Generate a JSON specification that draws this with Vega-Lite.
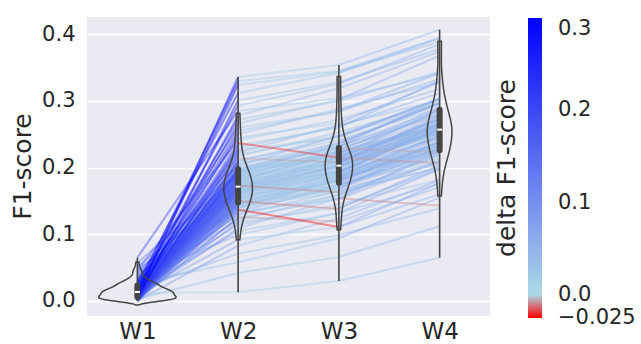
{
  "$schema": "https://vega.github.io/schema/vega-lite/v6.json",
  "autosize": {"type": "none"},
  "padding": {"left": 87, "top": 17, "right": 151, "bottom": 28},
  "width": 403,
  "height": 299,
  "datasets": {
    "runs": [
      {"W1":0.012,"W2":0.013,"W3":0.030,"W4":0.065},
      {"W1":0.003,"W2":0.042,"W3":0.066,"W4":0.112},
      {"W1":0.027,"W2":0.058,"W3":0.094,"W4":0.155},
      {"W1":0.018,"W2":0.071,"W3":0.099,"W4":0.139},
      {"W1":0.000,"W2":0.083,"W3":0.124,"W4":0.181},
      {"W1":0.009,"W2":0.092,"W3":0.111,"W4":0.160},
      {"W1":0.035,"W2":0.099,"W3":0.132,"W4":0.198},
      {"W1":0.015,"W2":0.105,"W3":0.132,"W4":0.176},
      {"W1":0.006,"W2":0.109,"W3":0.154,"W4":0.143},
      {"W1":0.021,"W2":0.114,"W3":0.145,"W4":0.182},
      {"W1":0.005,"W2":0.118,"W3":0.140,"W4":0.199},
      {"W1":0.030,"W2":0.121,"W3":0.159,"W4":0.209},
      {"W1":0.011,"W2":0.124,"W3":0.154,"W4":0.225},
      {"W1":0.001,"W2":0.126,"W3":0.119,"W4":0.171},
      {"W1":0.024,"W2":0.129,"W3":0.165,"W4":0.211},
      {"W1":0.016,"W2":0.131,"W3":0.159,"W4":0.220},
      {"W1":0.008,"W2":0.133,"W3":0.174,"W4":0.214},
      {"W1":0.042,"W2":0.134,"W3":0.153,"W4":0.210},
      {"W1":0.013,"W2":0.136,"W3":0.169,"W4":0.218},
      {"W1":0.004,"W2":0.137,"W3":0.111,"W4":0.177},
      {"W1":0.019,"W2":0.139,"W3":0.184,"W4":0.228},
      {"W1":0.000,"W2":0.140,"W3":0.171,"W4":0.226},
      {"W1":0.026,"W2":0.141,"W3":0.163,"W4":0.200},
      {"W1":0.010,"W2":0.142,"W3":0.180,"W4":0.239},
      {"W1":0.006,"W2":0.143,"W3":0.173,"W4":0.223},
      {"W1":0.033,"W2":0.144,"W3":0.168,"W4":0.239},
      {"W1":0.014,"W2":0.145,"W3":0.181,"W4":0.233},
      {"W1":0.002,"W2":0.146,"W3":0.174,"W4":0.220},
      {"W1":0.022,"W2":0.146,"W3":0.187,"W4":0.248},
      {"W1":0.007,"W2":0.147,"W3":0.166,"W4":0.206},
      {"W1":0.048,"W2":0.148,"W3":0.181,"W4":0.238},
      {"W1":0.013,"W2":0.149,"W3":0.176,"W4":0.225},
      {"W1":0.005,"W2":0.150,"W3":0.138,"W4":0.204},
      {"W1":0.017,"W2":0.151,"W3":0.182,"W4":0.226},
      {"W1":0.029,"W2":0.152,"W3":0.174,"W4":0.229},
      {"W1":0.000,"W2":0.153,"W3":0.191,"W4":0.228},
      {"W1":0.011,"W2":0.154,"W3":0.184,"W4":0.243},
      {"W1":0.020,"W2":0.155,"W3":0.179,"W4":0.229},
      {"W1":0.004,"W2":0.156,"W3":0.192,"W4":0.263},
      {"W1":0.038,"W2":0.157,"W3":0.185,"W4":0.237},
      {"W1":0.009,"W2":0.158,"W3":0.199,"W4":0.245},
      {"W1":0.023,"W2":0.159,"W3":0.178,"W4":0.239},
      {"W1":0.003,"W2":0.160,"W3":0.193,"W4":0.233},
      {"W1":0.015,"W2":0.161,"W3":0.188,"W4":0.245},
      {"W1":0.031,"W2":0.161,"W3":0.206,"W4":0.255},
      {"W1":0.006,"W2":0.162,"W3":0.193,"W4":0.259},
      {"W1":0.012,"W2":0.163,"W3":0.185,"W4":0.229},
      {"W1":0.000,"W2":0.164,"W3":0.202,"W4":0.257},
      {"W1":0.025,"W2":0.165,"W3":0.195,"W4":0.232},
      {"W1":0.018,"W2":0.165,"W3":0.189,"W4":0.248},
      {"W1":0.014,"W2":0.166,"W3":0.202,"W4":0.252},
      {"W1":0.052,"W2":0.167,"W3":0.195,"W4":0.266},
      {"W1":0.007,"W2":0.168,"W3":0.209,"W4":0.261},
      {"W1":0.021,"W2":0.168,"W3":0.187,"W4":0.233},
      {"W1":0.002,"W2":0.169,"W3":0.202,"W4":0.263},
      {"W1":0.010,"W2":0.169,"W3":0.196,"W4":0.236},
      {"W1":0.028,"W2":0.170,"W3":0.215,"W4":0.272},
      {"W1":0.005,"W2":0.170,"W3":0.201,"W4":0.250},
      {"W1":0.016,"W2":0.171,"W3":0.193,"W4":0.259},
      {"W1":0.036,"W2":0.171,"W3":0.209,"W4":0.253},
      {"W1":0.000,"W2":0.172,"W3":0.202,"W4":0.257},
      {"W1":0.019,"W2":0.173,"W3":0.163,"W4":0.200},
      {"W1":0.012,"W2":0.174,"W3":0.210,"W4":0.269},
      {"W1":0.026,"W2":0.175,"W3":0.203,"W4":0.253},
      {"W1":0.004,"W2":0.175,"W3":0.216,"W4":0.287},
      {"W1":0.008,"W2":0.176,"W3":0.195,"W4":0.247},
      {"W1":0.044,"W2":0.177,"W3":0.210,"W4":0.256},
      {"W1":0.013,"W2":0.178,"W3":0.205,"W4":0.266},
      {"W1":0.003,"W2":0.179,"W3":0.224,"W4":0.264},
      {"W1":0.022,"W2":0.180,"W3":0.211,"W4":0.268},
      {"W1":0.017,"W2":0.181,"W3":0.203,"W4":0.252},
      {"W1":0.006,"W2":0.182,"W3":0.220,"W4":0.286},
      {"W1":0.032,"W2":0.183,"W3":0.213,"W4":0.257},
      {"W1":0.000,"W2":0.184,"W3":0.208,"W4":0.263},
      {"W1":0.011,"W2":0.185,"W3":0.221,"W4":0.258},
      {"W1":0.024,"W2":0.186,"W3":0.214,"W4":0.273},
      {"W1":0.009,"W2":0.187,"W3":0.228,"W4":0.278},
      {"W1":0.015,"W2":0.188,"W3":0.207,"W4":0.278},
      {"W1":0.057,"W2":0.189,"W3":0.222,"W4":0.274},
      {"W1":0.005,"W2":0.190,"W3":0.217,"W4":0.263},
      {"W1":0.020,"W2":0.191,"W3":0.236,"W4":0.297},
      {"W1":0.002,"W2":0.192,"W3":0.223,"W4":0.263},
      {"W1":0.014,"W2":0.193,"W3":0.215,"W4":0.272},
      {"W1":0.027,"W2":0.194,"W3":0.232,"W4":0.281},
      {"W1":0.007,"W2":0.194,"W3":0.224,"W4":0.290},
      {"W1":0.018,"W2":0.195,"W3":0.219,"W4":0.263},
      {"W1":0.000,"W2":0.196,"W3":0.232,"W4":0.287},
      {"W1":0.034,"W2":0.196,"W3":0.224,"W4":0.261},
      {"W1":0.010,"W2":0.197,"W3":0.238,"W4":0.297},
      {"W1":0.023,"W2":0.197,"W3":0.216,"W4":0.266},
      {"W1":0.004,"W2":0.199,"W3":0.232,"W4":0.303},
      {"W1":0.016,"W2":0.201,"W3":0.228,"W4":0.280},
      {"W1":0.040,"W2":0.203,"W3":0.248,"W4":0.294},
      {"W1":0.012,"W2":0.205,"W3":0.236,"W4":0.297},
      {"W1":0.006,"W2":0.207,"W3":0.229,"W4":0.223},
      {"W1":0.021,"W2":0.209,"W3":0.247,"W4":0.304},
      {"W1":0.001,"W2":0.211,"W3":0.241,"W4":0.290},
      {"W1":0.029,"W2":0.214,"W3":0.208,"W4":0.274},
      {"W1":0.013,"W2":0.217,"W3":0.253,"W4":0.297},
      {"W1":0.008,"W2":0.220,"W3":0.248,"W4":0.303},
      {"W1":0.025,"W2":0.223,"W3":0.264,"W4":0.301},
      {"W1":0.003,"W2":0.226,"W3":0.245,"W4":0.304},
      {"W1":0.017,"W2":0.229,"W3":0.262,"W4":0.312},
      {"W1":0.000,"W2":0.233,"W3":0.260,"W4":0.331},
      {"W1":0.011,"W2":0.237,"W3":0.215,"W4":0.207},
      {"W1":0.046,"W2":0.241,"W3":0.272,"W4":0.318},
      {"W1":0.019,"W2":0.245,"W3":0.267,"W4":0.328},
      {"W1":0.006,"W2":0.250,"W3":0.288,"W4":0.328},
      {"W1":0.014,"W2":0.255,"W3":0.285,"W4":0.342},
      {"W1":0.030,"W2":0.260,"W3":0.284,"W4":0.333},
      {"W1":0.009,"W2":0.266,"W3":0.302,"W4":0.368},
      {"W1":0.022,"W2":0.272,"W3":0.300,"W4":0.344},
      {"W1":0.005,"W2":0.278,"W3":0.319,"W4":0.374},
      {"W1":0.065,"W2":0.285,"W3":0.304,"W4":0.341},
      {"W1":0.015,"W2":0.293,"W3":0.326,"W4":0.385},
      {"W1":0.002,"W2":0.301,"W3":0.328,"W4":0.378},
      {"W1":0.026,"W2":0.312,"W3":0.342,"W4":0.394},
      {"W1":0.012,"W2":0.324,"W3":0.344,"W4":0.389},
      {"W1":0.018,"W2":0.330,"W3":0.345,"W4":0.395},
      {"W1":0.007,"W2":0.336,"W3":0.354,"W4":0.407}
    ]
  },
  "data": {"name": "runs"},
  "config": {
    "font": "DejaVu Sans",
    "view": {"fill": "#EAEAF2", "stroke": null},
    "axis": {
      "domain": false,
      "ticks": false,
      "labelFont": "DejaVu Sans",
      "titleFont": "DejaVu Sans",
      "labelColor": "#262626",
      "titleColor": "#262626",
      "titleFontWeight": "normal",
      "gridColor": "#ffffff",
      "gridWidth": 1.3
    },
    "legend": {
      "labelFont": "DejaVu Sans",
      "titleFont": "DejaVu Sans"
    }
  },
  "layer": [
    {
      "transform": [{"calculate": "datum.W2 - datum.W1", "as": "delta"}],
      "mark": {"type": "rule", "strokeWidth": 2, "strokeOpacity": 0.42},
      "encoding": {
        "x": {"datum": 1, "type": "quantitative", "title": null,
              "scale": {"domain": [0.5, 4.5], "nice": false, "zero": false},
              "axis": {"values": [1, 2, 3, 4], "labelExpr": "'W' + datum.value", "grid": false, "labelFontSize": 23, "labelPadding": 4}},
        "x2": {"datum": 2},
        "y": {"field": "W1", "type": "quantitative", "title": "F1-score",
              "scale": {"domain": [-0.0226, 0.426], "nice": false, "zero": false},
              "axis": {"values": [0, 0.1, 0.2, 0.3, 0.4], "format": ".1f", "labelFontSize": 21, "labelPadding": 12, "grid": true,
                       "titleFontSize": 25, "titleX": -65, "titleY": 149, "titleAngle": 270, "titleAlign": "center", "titleBaseline": "middle"}},
        "y2": {"field": "W2"},
        "color": {"field": "delta", "type": "quantitative", "title": "delta F1-score",
                  "scale": {"type": "linear", "domain": [-0.0252, 0, 0.3], "range": ["#ff0000", "#add8e6", "#0000ff"], "interpolate": "rgb", "clamp": true},
                  "legend": {"orient": "none", "legendX": 408, "legendY": 1, "direction": "vertical", "gradientLength": 300, "gradientThickness": 14,
                             "gradientStrokeWidth": 0, "titleOrient": "left", "titleAnchor": "middle", "titleFontSize": 25, "titleFontWeight": "normal",
                             "titleColor": "#262626", "titlePadding": 7, "labelFontSize": 21, "labelColor": "#262626", "labelOffset": 16,
                             "labelOverlap": false,
                             "values": [-0.025, 0, 0.1, 0.2, 0.3],
                             "labelExpr": "datum.value < 0 ? '−0.025' : format(datum.value, '.1f')"}}
      }
    },
    {
      "transform": [{"calculate": "datum.W3 - datum.W2", "as": "delta"}],
      "mark": {"type": "rule", "strokeWidth": 2, "strokeOpacity": 0.42},
      "encoding": {
        "x": {"datum": 2, "type": "quantitative", "title": null},
        "x2": {"datum": 3},
        "y": {"field": "W2", "type": "quantitative", "title": "F1-score"},
        "y2": {"field": "W3"},
        "color": {"field": "delta", "type": "quantitative", "title": "delta F1-score"}
      }
    },
    {
      "transform": [{"calculate": "datum.W4 - datum.W3", "as": "delta"}],
      "mark": {"type": "rule", "strokeWidth": 2, "strokeOpacity": 0.42},
      "encoding": {
        "x": {"datum": 3, "type": "quantitative", "title": null},
        "x2": {"datum": 4},
        "y": {"field": "W3", "type": "quantitative", "title": "F1-score"},
        "y2": {"field": "W4"},
        "color": {"field": "delta", "type": "quantitative", "title": "delta F1-score"}
      }
    },
    {
      "transform": [
        {"fold": ["W1"], "as": ["wk", "f1"]},
        {"density": "f1", "groupby": ["wk"], "extent": [-0.03, 0.43], "steps": 500, "bandwidth": 0.003},
        {"filter": "datum.density > 1.2"},
        {"calculate": "datum.density * 0.011", "as": "hw"},
        {"calculate": "1 - datum.hw", "as": "lo"},
        {"calculate": "1 + datum.hw", "as": "hi"}
      ],
      "mark": {"type": "area", "orient": "horizontal", "fillOpacity": 0, "stroke": "#444444", "strokeWidth": 1.5},
      "encoding": {
        "y": {"field": "value", "type": "quantitative", "title": "F1-score"},
        "x": {"field": "lo", "type": "quantitative", "title": null},
        "x2": {"field": "hi"},
        "detail": {"field": "wk"}
      }
    },
    {
      "transform": [
        {"fold": ["W2", "W3", "W4"], "as": ["wk", "f1"]},
        {"density": "f1", "groupby": ["wk"], "extent": [-0.03, 0.43], "steps": 400},
        {"filter": "datum.density > 1.2"},
        {"calculate": "indexof(['W1','W2','W3','W4'], datum.wk) + 1", "as": "pos"},
        {"calculate": "datum.pos - 0.0145 * datum.density", "as": "lo"},
        {"calculate": "datum.pos + 0.0145 * datum.density", "as": "hi"}
      ],
      "mark": {"type": "area", "orient": "horizontal", "fillOpacity": 0, "stroke": "#444444", "strokeWidth": 1.5},
      "encoding": {
        "y": {"field": "value", "type": "quantitative", "title": "F1-score"},
        "x": {"field": "lo", "type": "quantitative", "title": null},
        "x2": {"field": "hi"},
        "detail": {"field": "wk"}
      }
    },
    {
      "transform": [
        {"fold": ["W1", "W2", "W3", "W4"], "as": ["wk", "f1"]},
        {"aggregate": [
          {"op": "min", "field": "f1", "as": "mn"},
          {"op": "max", "field": "f1", "as": "mx"},
          {"op": "q1", "field": "f1", "as": "q1"},
          {"op": "q3", "field": "f1", "as": "q3"},
          {"op": "median", "field": "f1", "as": "med"}
        ], "groupby": ["wk"]},
        {"calculate": "indexof(['W1','W2','W3','W4'], datum.wk) + 1", "as": "pos"}
      ],
      "layer": [
        {
          "mark": {"type": "rule", "color": "#444444", "strokeWidth": 1.6},
          "encoding": {
            "x": {"field": "pos", "type": "quantitative", "title": null},
            "y": {"field": "mn", "type": "quantitative", "title": "F1-score"},
            "y2": {"field": "mx"}
          }
        },
        {
          "mark": {"type": "rule", "color": "#444444", "strokeWidth": 6, "strokeCap": "round"},
          "encoding": {
            "x": {"field": "pos", "type": "quantitative", "title": null},
            "y": {"field": "q1", "type": "quantitative", "title": "F1-score"},
            "y2": {"field": "q3"}
          }
        },
        {
          "mark": {"type": "tick", "color": "#ffffff", "orient": "horizontal", "size": 5, "thickness": 2, "opacity": 1},
          "encoding": {
            "x": {"field": "pos", "type": "quantitative", "title": null},
            "y": {"field": "med", "type": "quantitative", "title": "F1-score"}
          }
        }
      ]
    }
  ]
}
